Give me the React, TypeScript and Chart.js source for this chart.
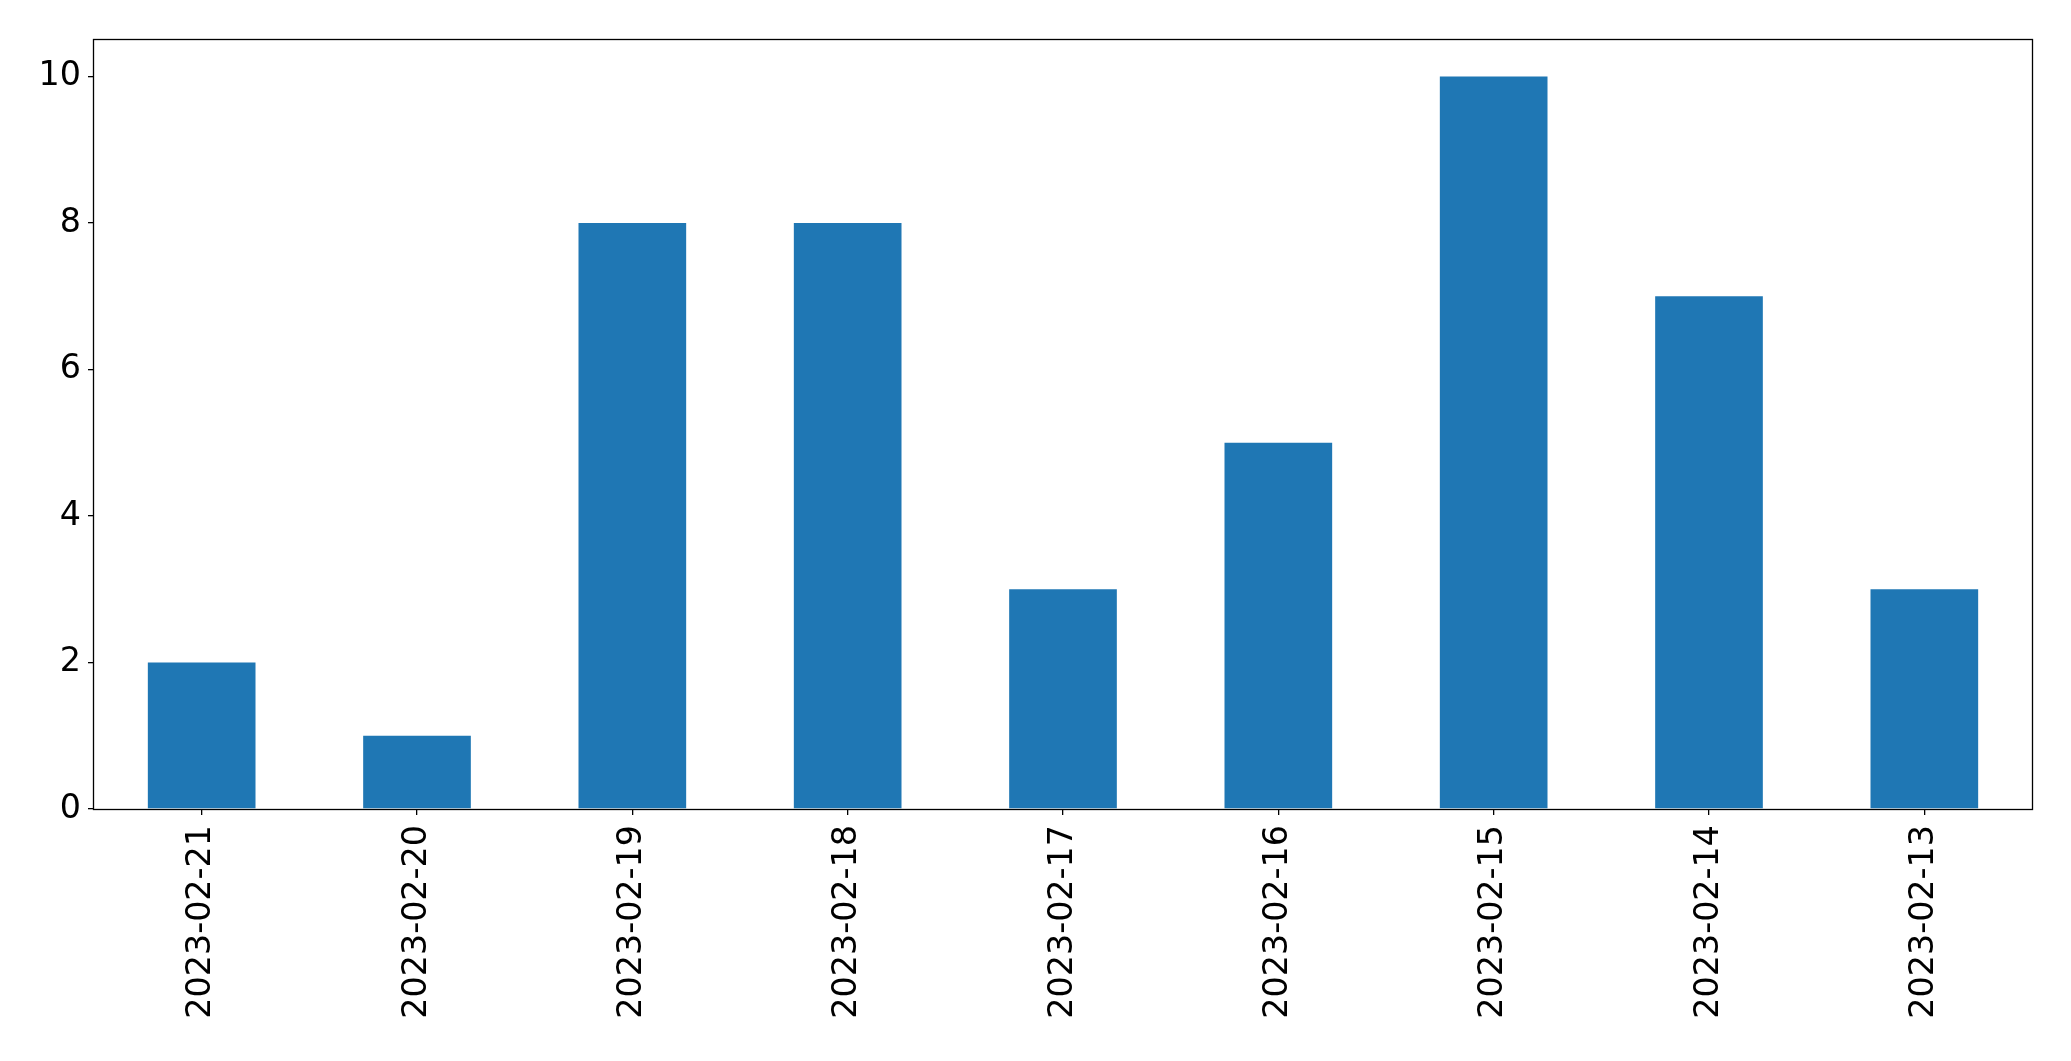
import React, { useEffect, useRef } from "react";
import { Chart, registerables } from "chart.js";

Chart.register(...registerables);

const categories = [
  "2023-02-21",
  "2023-02-20",
  "2023-02-19",
  "2023-02-18",
  "2023-02-17",
  "2023-02-16",
  "2023-02-15",
  "2023-02-14",
  "2023-02-13",
];
const values = [2, 1, 8, 8, 3, 5, 10, 7, 3];
const yTicks = [0, 2, 4, 6, 8, 10];

const W = 2071;
const H = 1061;
const FONT = "'DejaVu Sans', sans-serif";

const framePlugin = {
  id: "frame",
  afterDraw(chart: any) {
    const { ctx, chartArea } = chart;
    const l = Math.round(chartArea.left) - 0.5;
    const t = Math.round(chartArea.top) - 0.5;
    const r = Math.round(chartArea.right) + 0.5;
    const b = Math.round(chartArea.bottom) + 0.5;
    ctx.save();
    ctx.strokeStyle = "#000";
    ctx.lineWidth = 1.3;
    ctx.strokeRect(l, t, r - l, b - t);
    ctx.restore();
  },
};

export default function App() {
  const ref = useRef<HTMLCanvasElement | null>(null);

  useEffect(() => {
    if (!ref.current) return;
    const chart = new Chart(ref.current, {
      type: "bar",
      data: {
        labels: categories,
        datasets: [
          {
            data: values,
            backgroundColor: "#1f77b4",
            borderWidth: 0,
            categoryPercentage: 0.5,
            barPercentage: 1,
          },
        ],
      },
      options: {
        responsive: false,
        animation: false,
        events: [],
        layout: { padding: { left: 0, top: 40, right: 39, bottom: 0 } },
        plugins: {
          legend: { display: false },
          tooltip: { enabled: false },
        },
        scales: {
          x: {
            offset: true,
            grid: {
              offset: false,
              drawOnChartArea: false,
              drawTicks: true,
              tickLength: 6,
              color: "#000",
              lineWidth: 1.3,
            },
            border: { display: false },
            ticks: {
              color: "#000",
              font: { family: FONT, size: 33.33 },
              maxRotation: 90,
              minRotation: 90,
              padding: 10,
              autoSkip: false,
            },
            afterFit(scale: any) {
              scale.height = H - 809;
            },
          },
          y: {
            min: 0,
            max: 10.5,
            grid: {
              drawOnChartArea: false,
              drawTicks: true,
              tickLength: 6,
              color: "#000",
              lineWidth: 1.3,
            },
            border: { display: false },
            afterBuildTicks(scale: any) {
              scale.ticks = yTicks.map((v) => ({ value: v }));
            },
            ticks: {
              color: "#000",
              font: { family: FONT, size: 33.33 },
              padding: 7,
            },
            afterFit(scale: any) {
              scale.width = 94;
            },
          },
        },
      },
      plugins: [framePlugin],
    });
    return () => chart.destroy();
  }, []);

  return (
    <div
      style={{
        position: "absolute",
        left: 0,
        top: 0,
        width: W,
        height: H,
        background: "#fff",
      }}
    >
      <canvas ref={ref} width={W} height={H} style={{ display: "block" }} />
    </div>
  );
}
